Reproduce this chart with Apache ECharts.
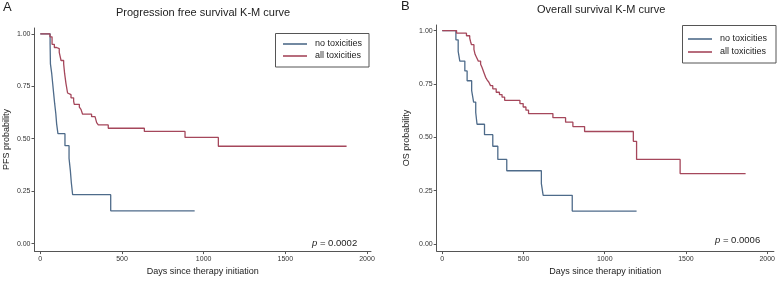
<!DOCTYPE html>
<html>
<head>
<meta charset="utf-8">
<style>
  html, body { margin: 0; padding: 0; background: #ffffff; }
  #chart { width: 778px; height: 281px; }
</style>
<script src="https://cdn.jsdelivr.net/npm/echarts@6/dist/echarts.min.js"></script>
</head>
<body>
<div id="chart"></div>
<script>
// tick labels
const dayTicks = [0, 500, 1000, 1500, 2000];
const probTicks = [0, 0.25, 0.5, 0.75, 1];
const seriesNames = ['no toxicities', 'all toxicities'];

// A: progression free survival
const pfsNoDays = [0, 60, 62, 70, 76, 82, 88, 95, 100, 108, 151, 176, 184, 190, 198, 431, 945];
const pfsNoProb = [1, 0.952, 0.857, 0.810, 0.762, 0.714, 0.667, 0.619, 0.571, 0.524, 0.467, 0.406, 0.348, 0.290, 0.233, 0.156, 0.156];
const pfsAllDays = [0, 59, 72, 86, 100, 116, 127, 143, 149, 157, 167, 178, 188, 204, 208, 239, 249, 259, 314, 335, 345, 355, 416, 637, 886, 1090, 1875];
const pfsAllProb = [1, 0.986, 0.950, 0.935, 0.930, 0.912, 0.873, 0.857, 0.810, 0.764, 0.718, 0.710, 0.695, 0.679, 0.664, 0.651, 0.640, 0.617, 0.605, 0.597, 0.577, 0.566, 0.550, 0.535, 0.506, 0.464, 0.464];

// B: overall survival
const osNoDays = [0, 84, 98, 108, 139, 153, 181, 193, 206, 214, 260, 311, 342, 397, 610, 621, 800, 1196];
const osNoProb = [1, 0.957, 0.903, 0.857, 0.811, 0.765, 0.719, 0.665, 0.616, 0.561, 0.512, 0.458, 0.396, 0.343, 0.283, 0.228, 0.154, 0.154];
const osAllDays = [0, 88, 149, 169, 174, 180, 195, 202, 212, 222, 236, 245, 256, 267, 277, 287, 297, 311, 332, 352, 368, 384, 478, 498, 515, 531, 681, 759, 804, 876, 1176, 1196, 1464, 1867];
const osAllProb = [1, 0.988, 0.976, 0.965, 0.949, 0.934, 0.912, 0.889, 0.873, 0.857, 0.842, 0.827, 0.804, 0.781, 0.768, 0.758, 0.742, 0.727, 0.711, 0.700, 0.688, 0.673, 0.658, 0.642, 0.627, 0.611, 0.592, 0.571, 0.550, 0.527, 0.481, 0.396, 0.330, 0.330];

const BLUE = '#4e6b8a';
const RED = '#a5475b';
const FONT = '"Liberation Sans", Arial, sans-serif';

function zip(days, probs) {
  return days.map((d, i) => [d, probs[i]]);
}

function xAxisFor(gridIndex, min, max) {
  return {
    type: 'value',
    gridIndex: gridIndex,
    min: min,
    max: max,
    name: 'Days since therapy initiation',
    nameLocation: 'middle',
    nameGap: 15,
    nameTextStyle: { color: '#222', fontSize: 9, fontFamily: FONT },
    axisLine: { onZero: false, lineStyle: { color: '#555', width: 1 } },
    axisTick: { show: true, length: 3, customValues: dayTicks, lineStyle: { color: '#555' } },
    axisLabel: {
      customValues: dayTicks,
      color: '#333',
      fontSize: 7,
      fontFamily: FONT,
      margin: 4,
      formatter: v => String(v)
    },
    splitLine: { show: false }
  };
}

function yAxisFor(gridIndex, min, max, name, gap) {
  return {
    type: 'value',
    gridIndex: gridIndex,
    min: min,
    max: max,
    name: name,
    nameLocation: 'middle',
    nameGap: gap,
    nameTextStyle: { color: '#222', fontSize: 9, fontFamily: FONT },
    axisLine: { onZero: false, lineStyle: { color: '#555', width: 1 } },
    axisTick: { show: true, length: 3, customValues: probTicks, lineStyle: { color: '#555' } },
    axisLabel: {
      customValues: probTicks,
      color: '#333',
      fontSize: 7,
      fontFamily: FONT,
      margin: 4,
      formatter: v => v.toFixed(2)
    },
    splitLine: { show: false }
  };
}

function kmSeries(name, data, color, axisIndex) {
  return {
    name: name,
    type: 'line',
    step: 'end',
    xAxisIndex: axisIndex,
    yAxisIndex: axisIndex,
    data: data,
    symbol: 'none',
    color: color,
    lineStyle: { color: color, width: 1.3 },
    silent: true
  };
}

function legendFor(left, top, lineHeight) {
  return {
    left: left,
    top: top,
    orient: 'vertical',
    data: seriesNames,
    icon: 'rect',
    itemWidth: 24,
    itemHeight: 1.6,
    itemGap: 0,
    padding: 0,
    selectedMode: false,
    textStyle: { color: '#222', fontSize: 9, fontFamily: FONT, lineHeight: lineHeight, padding: [0, 0, 0, 3] }
  };
}

function pText(x, y, value) {
  return {
    type: 'text',
    left: x,
    top: y,
    style: {
      text: '{i|p} = ' + value,
      fill: '#222',
      font: '9.5px ' + FONT,
      rich: { i: { fontStyle: 'italic', fontSize: 9.5, fontFamily: FONT, fill: '#222' } }
    }
  };
}

const chart = echarts.init(document.getElementById('chart'), null, { renderer: 'canvas' });

const option = {
  animation: false,
  backgroundColor: '#ffffff',
  grid: [
    { left: 34.5, top: 28, width: 336.5, height: 228.7 },
    { left: 436.7, top: 25, width: 340, height: 230 }
  ],
  xAxis: [
    xAxisFor(0, -35.5, 2024.5),
    xAxisFor(1, -34.2, 2041)
  ],
  yAxis: [
    yAxisFor(0, -0.0358, 1.0279, 'PFS probability', 23),
    yAxisFor(1, -0.0336, 1.0263, 'OS probability', 26)
  ],
  legend: [
    legendFor(283, 38, 12),
    legendFor(688, 32.5, 13)
  ],
  graphic: [
    { type: 'text', left: 3, top: 1, style: { text: 'A', fill: '#222', font: '13px ' + FONT } },
    { type: 'text', left: 401, top: 0, style: { text: 'B', fill: '#222', font: '13px ' + FONT } },
    { type: 'text', left: 116, top: 7, style: { text: 'Progression free survival K-M curve', fill: '#222', font: '11px ' + FONT } },
    { type: 'text', left: 537, top: 4, style: { text: 'Overall survival K-M curve', fill: '#222', font: '11px ' + FONT } },
    { type: 'rect', shape: { x: 275.5, y: 33.5, width: 93.5, height: 33.5 }, style: { fill: 'none', stroke: '#555', lineWidth: 1 } },
    { type: 'rect', shape: { x: 682.5, y: 25.5, width: 93.5, height: 37.5 }, style: { fill: 'none', stroke: '#555', lineWidth: 1 } },
    pText(312, 238, '0.0002'),
    pText(715, 235, '0.0006')
  ],
  series: [
    kmSeries(seriesNames[0], zip(pfsNoDays, pfsNoProb), BLUE, 0),
    kmSeries(seriesNames[1], zip(pfsAllDays, pfsAllProb), RED, 0),
    kmSeries(seriesNames[0], zip(osNoDays, osNoProb), BLUE, 1),
    kmSeries(seriesNames[1], zip(osAllDays, osAllProb), RED, 1)
  ]
};

chart.setOption(option);
</script>
</body>
</html>
